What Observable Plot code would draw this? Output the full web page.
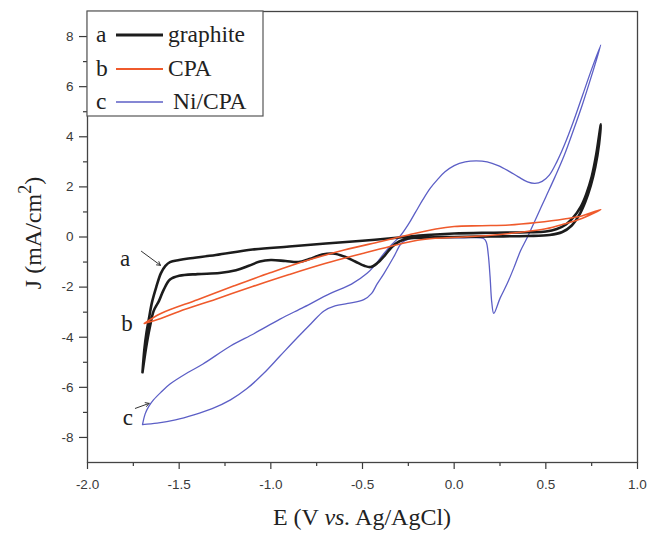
<!DOCTYPE html>
<html>
<head>
<meta charset="utf-8">
<script src="https://cdn.jsdelivr.net/npm/d3@7"></script>
<script src="https://cdn.jsdelivr.net/npm/@observablehq/plot@0.6"></script>
<style>
  html, body { margin: 0; padding: 0; background: #fff; }
  #chart { width: 651px; height: 535px; }
</style>
</head>
<body>
<div id="chart"></div>
<script>
// ---- data (E in V vs Ag/AgCl, J in mA/cm2) ----
const graphite = [
  [-1.700,-5.40],[-1.690,-4.50],[-1.678,-3.80],[-1.666,-3.30],[-1.648,-2.60],[-1.625,-2.00],
  [-1.600,-1.45],[-1.575,-1.15],[-1.550,-1.00],[-1.500,-0.92],[-1.450,-0.86],[-1.300,-0.72],
  [-1.100,-0.50],[-0.900,-0.38],[-0.700,-0.26],[-0.500,-0.15],[-0.300,-0.02],[-0.150,0.08],
  [0.000,0.14],[0.200,0.17],[0.400,0.19],[0.500,0.22],[0.560,0.32],[0.610,0.50],[0.650,0.78],
  [0.690,1.20],[0.720,1.70],[0.750,2.40],[0.775,3.30],[0.800,4.50],
  [0.790,3.70],[0.770,2.80],[0.745,2.05],[0.715,1.40],[0.680,0.85],[0.640,0.45],[0.590,0.20],
  [0.520,0.08],[0.400,0.04],[0.200,0.02],[0.000,0.00],[-0.150,-0.02],[-0.250,-0.06],
  [-0.300,-0.18],[-0.340,-0.40],[-0.380,-0.75],[-0.420,-1.05],[-0.455,-1.20],[-0.490,-1.15],
  [-0.540,-0.98],[-0.600,-0.78],[-0.660,-0.66],[-0.720,-0.70],[-0.790,-0.88],[-0.850,-1.00],
  [-0.920,-0.96],[-1.000,-0.92],[-1.060,-0.98],[-1.120,-1.15],[-1.190,-1.33],[-1.280,-1.44],
  [-1.400,-1.48],[-1.500,-1.55],[-1.550,-1.70],[-1.584,-2.10],[-1.610,-2.55],[-1.639,-2.95],
  [-1.660,-3.60],[-1.680,-4.40],[-1.700,-5.40]
];
const cpa = [
  [-1.690,-3.45],[-1.600,-3.05],[-1.400,-2.50],[-1.200,-1.95],[-1.000,-1.42],[-0.800,-0.93],
  [-0.600,-0.52],[-0.400,-0.18],[-0.250,0.08],[-0.100,0.32],[0.000,0.42],[0.150,0.45],
  [0.300,0.48],[0.450,0.58],[0.600,0.72],[0.700,0.85],[0.800,1.10],
  [0.700,0.75],[0.600,0.52],[0.500,0.33],[0.350,0.18],[0.200,0.07],[0.050,0.00],[-0.100,-0.05],
  [-0.200,-0.13],[-0.350,-0.38],[-0.500,-0.66],[-0.700,-1.05],[-0.900,-1.50],[-1.100,-1.98],
  [-1.300,-2.48],[-1.500,-2.97],[-1.600,-3.25],[-1.690,-3.45]
];
const niCpa = [
  [-1.700,-7.49],[-1.685,-7.05],[-1.665,-6.75],[-1.640,-6.50],[-1.600,-6.20],[-1.550,-5.87],
  [-1.450,-5.40],[-1.370,-5.07],[-1.220,-4.35],[-1.090,-3.85],[-0.950,-3.28],[-0.820,-2.80],
  [-0.675,-2.25],[-0.560,-1.88],[-0.475,-1.45],[-0.430,-1.10],[-0.384,-0.67],[-0.340,-0.30],
  [-0.293,0.05],[-0.250,0.50],[-0.210,1.00],[-0.170,1.50],[-0.130,1.95],[-0.090,2.30],
  [-0.050,2.60],[0.000,2.85],[0.060,3.00],[0.120,3.04],[0.180,3.00],[0.240,2.85],[0.300,2.62],
  [0.350,2.40],[0.400,2.20],[0.440,2.14],[0.480,2.22],[0.520,2.48],[0.560,3.00],[0.600,3.65],
  [0.650,4.60],[0.700,5.65],[0.750,6.70],[0.800,7.67],
  [0.750,6.45],[0.700,5.30],[0.650,4.25],[0.600,3.25],[0.550,2.40],[0.500,1.60],[0.450,0.80],
  [0.400,0.00],[0.362,-0.55],[0.330,-1.15],[0.290,-1.85],[0.250,-2.45],[0.216,-3.05],
  [0.205,-2.60],[0.196,-1.60],[0.186,-0.70],[0.175,-0.20],[0.160,-0.06],[0.050,-0.03],
  [-0.100,-0.02],[-0.200,-0.03],[-0.240,-0.06],[-0.270,-0.15],[-0.293,-0.30],[-0.330,-0.80],
  [-0.384,-1.47],[-0.420,-1.87],[-0.450,-2.25],[-0.493,-2.50],[-0.580,-2.65],[-0.650,-2.75],
  [-0.710,-2.95],[-0.780,-3.45],[-0.860,-4.05],[-0.950,-4.75],[-1.040,-5.45],[-1.130,-6.05],
  [-1.220,-6.50],[-1.320,-6.85],[-1.420,-7.10],[-1.520,-7.30],[-1.620,-7.43],[-1.700,-7.49]
];

const xMajorTicks = [-2.0, -1.5, -1.0, -0.5, 0.0, 0.5, 1.0];
const xMinorTicks = [-1.75, -1.25, -0.75, -0.25, 0.25, 0.75];
const yMajorTicks = [-8, -6, -4, -2, 0, 2, 4, 6, 8];
const yMinorTicks = [-7, -5, -3, -1, 1, 3, 5, 7];

const seriesKeys = ["a", "b", "c"];
const seriesNames = ["graphite", "CPA", "Ni/CPA"];
const seriesColors = ["#1c1c1c", "#ef5a2c", "#5c5fc6"];
const seriesWidths = [2.6, 1.6, 1.3];

const annotText = ["a", "b", "c"];
const annotE = [-1.795, -1.785, -1.780];
const annotJ = [-0.85, -3.45, -7.20];
const arrowE1 = [-1.706, -1.739];
const arrowJ1 = [-0.57, -6.84];
const arrowE2 = [-1.602, -1.664];
const arrowJ2 = [-1.13, -6.64];

const xTitleParts = ["E (V ", "vs.", " Ag/AgCl)"];
const yTitleParts = ["J (mA/cm", "2", ")"];

// ---- build ----
const toXY = arr => arr.map(([E, J]) => ({E, J}));
const annots = annotText.map((t, i) => ({t, E: annotE[i], J: annotJ[i]}));
const arrows = arrowE1.map((e, i) => ({x1: e, y1: arrowJ1[i], x2: arrowE2[i], y2: arrowJ2[i]}));
const serif = "'Liberation Serif', 'Times New Roman', serif";

const chart = Plot.plot({
  width: 651,
  height: 535,
  marginLeft: 87,
  marginRight: 14,
  marginTop: 11,
  marginBottom: 73,
  x: {domain: [-2, 1]},
  y: {domain: [-9, 9]},
  style: {fontFamily: "'Liberation Sans', Arial, sans-serif", fontSize: "13.5px", color: "#3a3a3a", background: "#fff"},
  marks: [
    Plot.axisX({ticks: xMajorTicks, tickSize: 7, tickPadding: 10, tickFormat: d => d.toFixed(1), label: null, strokeWidth: 1.2}),
    Plot.axisX({ticks: xMinorTicks, tickSize: 4, tickFormat: () => "", label: null, strokeWidth: 1.2}),
    Plot.axisY({ticks: yMajorTicks, tickSize: 8, tickPadding: 6, tickFormat: d => String(d), label: null, strokeWidth: 1.2}),
    Plot.axisY({ticks: yMinorTicks, tickSize: 4, tickFormat: () => "", label: null, strokeWidth: 1.2}),
    Plot.line(toXY(niCpa), {x: "E", y: "J", stroke: seriesColors[2], strokeWidth: seriesWidths[2], curve: "catmull-rom"}),
    Plot.line(toXY(graphite), {x: "E", y: "J", stroke: seriesColors[0], strokeWidth: seriesWidths[0], curve: "catmull-rom"}),
    Plot.line(toXY(cpa), {x: "E", y: "J", stroke: seriesColors[1], strokeWidth: seriesWidths[1], curve: "catmull-rom"}),
    Plot.text(annots, {x: "E", y: "J", text: "t", fontFamily: serif, fontSize: 23, fill: "#222"}),
    Plot.arrow(arrows, {x1: "x1", y1: "y1", x2: "x2", y2: "y2", stroke: "#333", strokeWidth: 1, headLength: 6, bend: 0}),
    Plot.frame({stroke: "#444", strokeWidth: 1.3})
  ]
});

const svg = d3.select(chart);

// legend (top-left box)
const lg = svg.append("g").attr("font-family", serif).attr("font-size", 23.5).attr("fill", "#222")
  .attr("text-anchor", "start");
lg.append("rect").attr("x", 87).attr("y", 11).attr("width", 176).attr("height", 105)
  .attr("fill", "#fff").attr("stroke", "#555").attr("stroke-width", 1.2);
const lgY = [35, 69, 102];
const lgTextX = [168, 168, 173];
seriesKeys.forEach((k, i) => {
  lg.append("text").attr("x", 96).attr("y", lgY[i] + 7).attr("text-anchor", "start").text(k);
  lg.append("line").attr("x1", 116).attr("x2", 163).attr("y1", lgY[i]).attr("y2", lgY[i])
    .attr("stroke", seriesColors[i]).attr("stroke-width", seriesWidths[i] + 0.4);
  lg.append("text").attr("x", lgTextX[i]).attr("y", lgY[i] + 7).attr("text-anchor", "start").text(seriesNames[i]);
});

// x title
const xt = svg.append("text").attr("x", 362).attr("y", 525).attr("text-anchor", "middle")
  .attr("font-family", serif).attr("font-size", 24).attr("fill", "#222");
xt.append("tspan").text(xTitleParts[0]);
xt.append("tspan").attr("font-style", "italic").text(xTitleParts[1]);
xt.append("tspan").text(xTitleParts[2]);

// y title
const yt = svg.append("text").attr("transform", "translate(41,233) rotate(-90)").attr("text-anchor", "middle")
  .attr("font-family", serif).attr("font-size", 24).attr("fill", "#222");
yt.append("tspan").text(yTitleParts[0]);
yt.append("tspan").attr("dy", -10).attr("font-size", 18).text(yTitleParts[1]);
yt.append("tspan").attr("dy", 10).text(yTitleParts[2]);

document.getElementById("chart").appendChild(chart);
</script>
</body>
</html>
